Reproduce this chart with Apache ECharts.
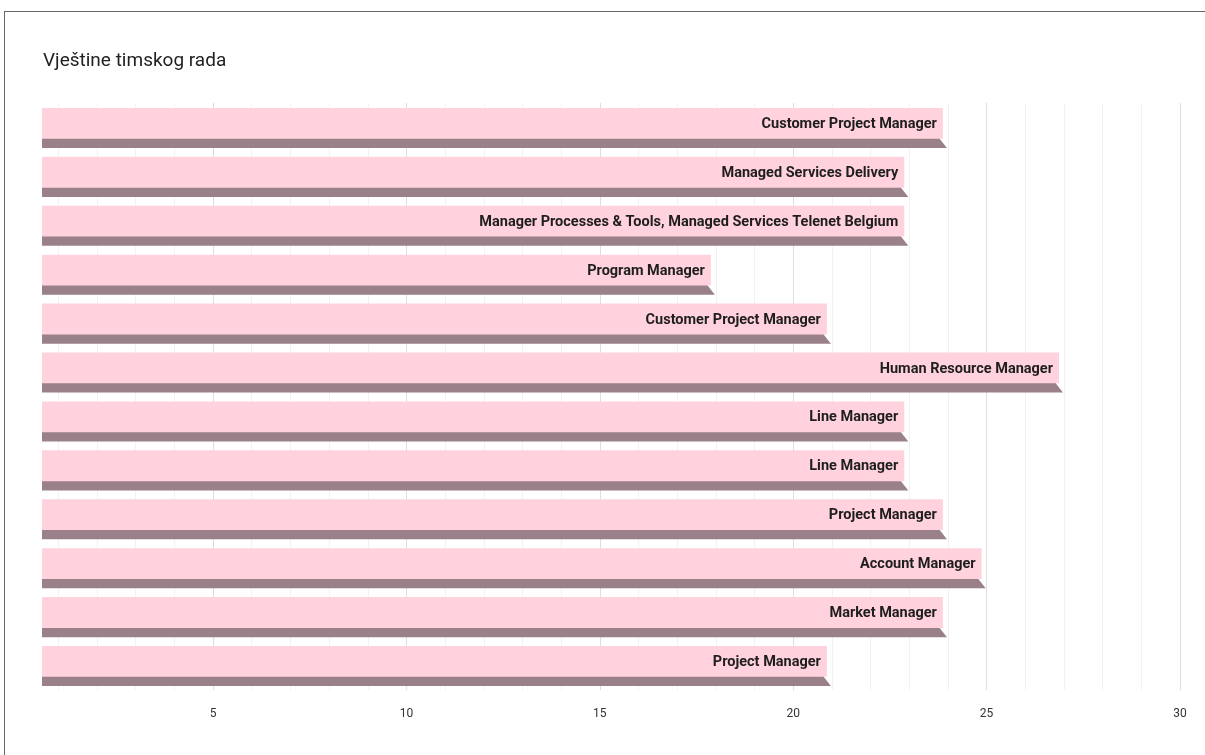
<!DOCTYPE html>
<html>
<head>
<meta charset="utf-8">
<script src="https://cdn.jsdelivr.net/npm/echarts@6/dist/echarts.min.js"></script>
<style>
html,body{margin:0;padding:0;background:#fff;}
#frame{position:absolute;left:4px;top:11px;width:1201px;height:744px;border-top:1.5px solid #666;border-left:1.5px solid #666;box-sizing:border-box;}
#main{position:absolute;left:0;top:0;width:1205px;height:755px;}
</style>
</head>
<body>
<div id="frame"></div>
<div id="main"></div>
<script>
const title = 'Vještine timskog rada';
const categories = [
  'Customer Project Manager',
  'Managed Services Delivery',
  'Manager Processes & Tools, Managed Services Telenet Belgium',
  'Program Manager',
  'Customer Project Manager',
  'Human Resource Manager',
  'Line Manager',
  'Line Manager',
  'Project Manager',
  'Account Manager',
  'Market Manager',
  'Project Manager'
];
const values = [24, 23, 23, 18, 21, 27, 23, 23, 24, 25, 24, 21];
const tickLabels = [5, 10, 15, 20, 25, 30];

const AXIS_MIN = 0.5;
const chart = echarts.init(document.getElementById('main'));
const T = 'rgba(0,0,0,0)', F = '#f2f2f2', S = '#dedede';

chart.setOption({
  animation: false,
  title: {
    text: title, left: 38, top: 47,
    textStyle: {fontFamily: 'Roboto', fontSize: 19, fontWeight: 'normal', color: '#222'}
  },
  grid: {left: 39, right: 25, top: 103, bottom: 65},
  xAxis: {
    type: 'value', min: AXIS_MIN, max: 30, interval: 0.5,
    axisLine: {show: false}, axisTick: {show: false},
    axisLabel: {
      formatter: v => tickLabels.indexOf(v) >= 0 ? String(v) : '',
      fontFamily: 'Roboto', fontSize: 12, color: '#333', margin: 18
    },
    splitLine: {show: true, lineStyle: {width: 1, color: [T, F, T, F, T, F, T, F, T, S]}}
  },
  yAxis: {
    type: 'category', data: categories, inverse: true,
    axisLine: {show: false}, axisTick: {show: false}, axisLabel: {show: false},
    splitLine: {show: false}
  },
  series: [{
    type: 'custom',
    data: values.map((v, i) => [v, i]),
    encode: {x: 0, y: 1},
    renderItem: function (params, api) {
      const v = api.value(0), i = api.value(1);
      const left = api.coord([AXIS_MIN, i]);
      const end = api.coord([v, i]);
      const band = api.size([0, 1])[1];
      const cy = end[1];
      const top = cy - band * 0.40;
      const faceBot = cy + band * 0.23;
      const shBot = cy + band * 0.42;
      const x0 = left[0] + 3, x1 = end[0];
      const faceEnd = x1 - 5;
      return {
        type: 'group',
        children: [
          {type: 'polygon', shape: {points: [[x0, faceBot - 1], [faceEnd - 4, faceBot - 1], [x1 - 1, shBot], [x0, shBot]]},
           style: {fill: '#9a8189'}},
          {type: 'rect', shape: {x: x0, y: top, width: faceEnd - x0, height: faceBot - top},
           style: {fill: '#ffd2dd'}},
          {type: 'text', x: faceEnd - 6, y: (top + faceBot) / 2 + 1,
           style: {text: categories[i], align: 'right', verticalAlign: 'middle',
                   fontFamily: 'Roboto', fontWeight: 'bold', fontSize: 14.5, fill: '#1e1e1e'}}
        ]
      };
    }
  }]
});
</script>
</body>
</html>
